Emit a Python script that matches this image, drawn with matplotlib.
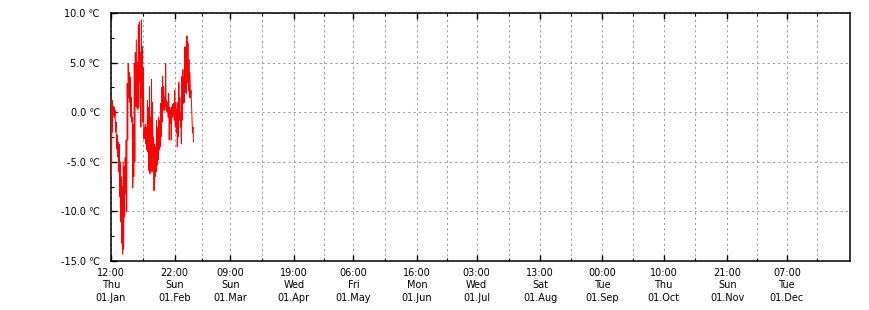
import numpy as np
import pandas as pd
import matplotlib
matplotlib.use("Agg")
import matplotlib.pyplot as plt
import matplotlib.dates as mdates
from matplotlib.ticker import FixedLocator, MultipleLocator, FuncFormatter

# ---------- DATA (~6 h samples, high/low pairs) ----------
start = pd.Timestamp("2015-01-01 12:00")
end = pd.Timestamp("2016-01-01 12:00")
step_hours = 6

temps = [
    1.4, -6.5, 1.2, -2.0, 0.6, -0.3, 0.5, -0.5, 0.2, -2.0,
    -1.0, -3.7, -2.3, -4.5, -3.0, -6.0, -3.2, -8.5, -5.0, -11.0,
    -6.5, -13.2, -7.5, -14.3, -5.0, -13.8, -5.5, -10.5, -4.6, -8.2,
    -2.8, -10.0, 2.9, -2.8, 4.9, 1.5, 4.0, 1.0, 3.5, -0.5,
    1.5, -1.0, -0.5, -7.6, -1.2, -6.5, 4.9, -5.0, 6.0, 0.6,
    7.3, 0.5, 5.0, 0.3, 8.8, 0.5, 9.1, 3.0, 6.0, -1.5,
    9.3, 1.5, 6.6, -1.0, 4.5, -2.7, -1.5, -2.6, -1.2, -3.2,
    -1.5, -3.8, 1.2, -4.0, 0.5, -5.9, 2.6, -6.2, -0.5, -5.0,
    3.3, -6.0, 1.0, -4.5, -2.5, -7.9, -3.2, -6.5, -3.5, -6.0,
    -0.8, -5.3, -1.5, -4.8, -0.5, -3.8, -0.8, -3.5, 0.9, -2.5,
    2.5, -1.0, 3.6, 0.2, 2.6, 0.2, 1.5, 0.6, 4.9, 0.2,
    1.2, 0.0, 1.0, -0.5, 1.9, -2.8, 0.5, -1.1, 0.2, -2.8,
    0.5, -0.5, 0.8, -0.3, 0.9, -0.8, 2.2, -1.5, 1.0, -2.1,
    0.3, -3.5, 1.0, -2.5, 3.0, -0.8, 1.5, -1.5, 0.0, -3.2,
    3.6, -0.8, 4.3, 0.9, 3.5, 1.0, 6.6, 2.0, 6.5, 1.9,
    7.7, 3.0, 7.0, 2.2, 5.3, 1.5, 4.0, 1.5, 2.2, 0.9,
    -0.5, -2.1, -1.5, -3.0,
]

tick_times = [
    "2015-01-01 12:00", "2015-02-01 22:00", "2015-03-01 09:00",
    "2015-04-01 19:00", "2015-05-01 06:00", "2015-06-01 16:00",
    "2015-07-01 03:00", "2015-08-01 13:00", "2015-09-01 00:00",
    "2015-10-01 10:00", "2015-11-01 21:00", "2015-12-01 07:00",
]
y_ticks = [-15, -10, -5, 0, 5, 10]

# ---------- FIGURE ----------
times = start + pd.to_timedelta(np.arange(len(temps)) * step_hours, unit="h")

fig = plt.figure(figsize=(8.7, 3.1), dpi=100)
ax = fig.add_axes([111 / 870, 1 - 261 / 310, (850 - 111) / 870, (261 - 13) / 310])

ax.plot(times, temps, color="red", lw=0.7, zorder=3)

# x ticks (major with labels, minor halfway)
major = [mdates.date2num(pd.Timestamp(t)) for t in tick_times]
gap = major[-1] - major[-2]
minor = [(a + b) / 2 for a, b in zip(major[:-1], major[1:])] + [major[-1] + gap / 2]
ax.xaxis.set_major_locator(FixedLocator(major))
ax.xaxis.set_minor_locator(FixedLocator(minor))
ax.xaxis.set_major_formatter(FuncFormatter(
    lambda x, pos: mdates.num2date(x).strftime("%H:%M\n%a\n%d.%b")))

ax.yaxis.set_major_locator(FixedLocator(y_ticks))
ax.yaxis.set_minor_locator(MultipleLocator(2.5))
ax.yaxis.set_major_formatter(FuncFormatter(lambda v, pos: f"{v:.1f} \u2103"))

ax.set_xlim(start, end)
ax.set_ylim(-15, 10)

ax.grid(True, which="both", axis="x", color="#999999", lw=0.75, ls=(0, (2, 3)))
ax.grid(True, which="major", axis="y", color="#999999", lw=0.75, ls=(0, (2, 3)))

ax.tick_params(axis="x", which="both", direction="in", top=True, bottom=True,
               labelsize=7, pad=5)
ax.tick_params(axis="y", which="both", direction="in", left=True, right=False,
               labelsize=7, pad=8)
ax.tick_params(which="major", length=4, width=1)
ax.tick_params(which="minor", length=2.5, width=0.8)
for lab in ax.get_xticklabels():
    lab.set_linespacing(1.3)
for sp in ax.spines.values():
    sp.set_linewidth(1.1)

fig.savefig("out.png", dpi=100)
